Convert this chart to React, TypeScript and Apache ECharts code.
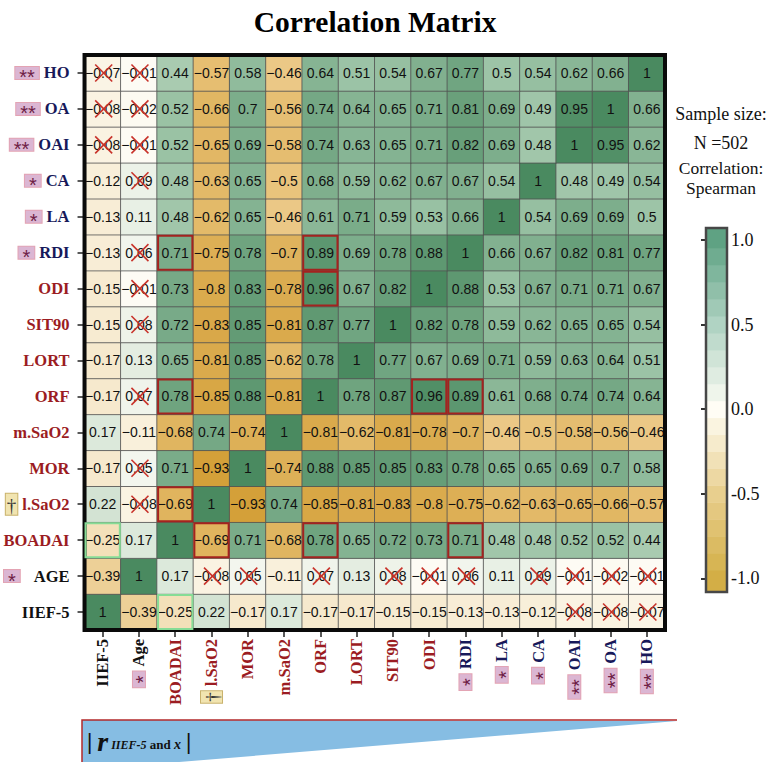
import React, { useEffect, useRef } from "react";
import * as echarts from "echarts";

const SERIF = "'Liberation Serif', 'Times New Roman', serif";
const SANS = "'Liberation Sans', Arial, sans-serif";

// Variables in x-axis order (left -> right); y-axis uses the same order bottom -> top
const xNames = ["IIEF-5", "Age", "BOADAI", "l.SaO2", "MOR", "m.SaO2", "ORF", "LORT", "SIT90", "ODI", "RDI", "LA", "CA", "OAI", "OA", "HO"];
const yNames = ["IIEF-5", "AGE", "BOADAI", "l.SaO2", "MOR", "m.SaO2", "ORF", "LORT", "SIT90", "ODI", "RDI", "LA", "CA", "OAI", "OA", "HO"];
// label colour group: k = black, r = dark red, n = navy
const nameGroup = ["k", "k", "r", "r", "r", "r", "r", "r", "r", "r", "n", "n", "n", "n", "n", "n"];
// significance markers beside the labels
const starMarks = ["", "*", "", "", "", "", "", "", "", "", "*", "*", "*", "**", "**", "**"];
const daggerMarks = ["", "", "", "†", "", "", "", "", "", "", "", "", "", "", "", ""];

// Spearman correlation matrix, rows in the same variable order
const rIIEF5 = [1, -0.39, -0.25, 0.22, -0.17, 0.17, -0.17, -0.17, -0.15, -0.15, -0.13, -0.13, -0.12, -0.08, -0.08, -0.07];
const rAge = [-0.39, 1, 0.17, -0.08, 0.05, -0.11, 0.07, 0.13, 0.08, -0.01, 0.06, 0.11, 0.09, -0.01, -0.02, -0.01];
const rBOADAI = [-0.25, 0.17, 1, -0.69, 0.71, -0.68, 0.78, 0.65, 0.72, 0.73, 0.71, 0.48, 0.48, 0.52, 0.52, 0.44];
const rLSaO2 = [0.22, -0.08, -0.69, 1, -0.93, 0.74, -0.85, -0.81, -0.83, -0.8, -0.75, -0.62, -0.63, -0.65, -0.66, -0.57];
const rMOR = [-0.17, 0.05, 0.71, -0.93, 1, -0.74, 0.88, 0.85, 0.85, 0.83, 0.78, 0.65, 0.65, 0.69, 0.7, 0.58];
const rMSaO2 = [0.17, -0.11, -0.68, 0.74, -0.74, 1, -0.81, -0.62, -0.81, -0.78, -0.7, -0.46, -0.5, -0.58, -0.56, -0.46];
const rORF = [-0.17, 0.07, 0.78, -0.85, 0.88, -0.81, 1, 0.78, 0.87, 0.96, 0.89, 0.61, 0.68, 0.74, 0.74, 0.64];
const rLORT = [-0.17, 0.13, 0.65, -0.81, 0.85, -0.62, 0.78, 1, 0.77, 0.67, 0.69, 0.71, 0.59, 0.63, 0.64, 0.51];
const rSIT90 = [-0.15, 0.08, 0.72, -0.83, 0.85, -0.81, 0.87, 0.77, 1, 0.82, 0.78, 0.59, 0.62, 0.65, 0.65, 0.54];
const rODI = [-0.15, -0.01, 0.73, -0.8, 0.83, -0.78, 0.96, 0.67, 0.82, 1, 0.88, 0.53, 0.67, 0.71, 0.71, 0.67];
const rRDI = [-0.13, 0.06, 0.71, -0.75, 0.78, -0.7, 0.89, 0.69, 0.78, 0.88, 1, 0.66, 0.67, 0.82, 0.81, 0.77];
const rLA = [-0.13, 0.11, 0.48, -0.62, 0.65, -0.46, 0.61, 0.71, 0.59, 0.53, 0.66, 1, 0.54, 0.69, 0.69, 0.5];
const rCA = [-0.12, 0.09, 0.48, -0.63, 0.65, -0.5, 0.68, 0.59, 0.62, 0.67, 0.67, 0.54, 1, 0.48, 0.49, 0.54];
const rOAI = [-0.08, -0.01, 0.52, -0.65, 0.69, -0.58, 0.74, 0.63, 0.65, 0.71, 0.82, 0.69, 0.48, 1, 0.95, 0.62];
const rOA = [-0.08, -0.02, 0.52, -0.66, 0.7, -0.56, 0.74, 0.64, 0.65, 0.71, 0.81, 0.69, 0.49, 0.95, 1, 0.66];
const rHO = [-0.07, -0.01, 0.44, -0.57, 0.58, -0.46, 0.64, 0.51, 0.54, 0.67, 0.77, 0.5, 0.54, 0.62, 0.66, 1];
const matrix = [rIIEF5, rAge, rBOADAI, rLSaO2, rMOR, rMSaO2, rORF, rLORT, rSIT90, rODI, rRDI, rLA, rCA, rOAI, rOA, rHO];

// non-significant pairs (crossed out), highlighted pairs
const nonSignificant: [string, string][] = [
  ["IIEF-5", "OAI"], ["IIEF-5", "OA"], ["IIEF-5", "HO"],
  ["Age", "l.SaO2"], ["Age", "MOR"], ["Age", "ORF"], ["Age", "SIT90"], ["Age", "ODI"],
  ["Age", "RDI"], ["Age", "CA"], ["Age", "OAI"], ["Age", "OA"], ["Age", "HO"],
];
const redPairs: [string, string][] = [["BOADAI", "l.SaO2"], ["BOADAI", "ORF"], ["BOADAI", "RDI"], ["ORF", "ODI"], ["ORF", "RDI"]];
const greenPairs: [string, string][] = [["IIEF-5", "BOADAI"]];

const colorbarTicks = [-1, -0.5, 0, 0.5, 1];
const colorbarMids = [-1, -0.9, -0.8, -0.7, -0.6, -0.5, -0.4, -0.3, -0.2, -0.1, 0, 0.1, 0.2, 0.3, 0.4, 0.5, 0.6, 0.7, 0.8, 0.9, 1];
const colorbarMin = -1.08;
const colorbarMax = 1.07;

const cellColors = ["#d09a2e", "#e9c47c", "#fdfcf6", "#9dc4a7", "#4a8a60"];
const barColors = ["#d3ae46", "#e8cf8e", "#fffdf5", "#b0d3c3", "#5fa283"];

const fmt = (v: number) => (v < 0 ? "\u2212" : "") + String(Math.abs(v));
const idx = (n: string) => xNames.indexOf(n);
const symPairs = (pairs: [string, string][]) => {
  const out: number[][] = [];
  pairs.forEach(([a, b]) => {
    out.push([idx(a), idx(b)]);
    out.push([idx(b), idx(a)]);
  });
  return out;
};

const LABEL_SIZE = 16.5;
const rich: any = {
  k: { color: "#111111", fontWeight: "bold", fontSize: LABEL_SIZE, fontFamily: SERIF },
  r: { color: "#9b1c22", fontWeight: "bold", fontSize: LABEL_SIZE, fontFamily: SERIF },
  n: { color: "#17195a", fontWeight: "bold", fontSize: LABEL_SIZE, fontFamily: SERIF },
  s: {
    color: "#6e1d45", backgroundColor: "#dbb6d3", borderColor: "#e3a3b3", borderWidth: 1,
    fontSize: 20, fontFamily: SANS, height: 3, lineHeight: 3, padding: [9, 4, 0, 4],
  },
  d: {
    color: "#333333", backgroundColor: "#f1e4b0", borderColor: "#c9b26c", borderWidth: 1,
    fontSize: 19, fontFamily: SERIF, padding: [2, 1, 0, 1],
  },
  g: { width: 5 },
  G: { width: 14 },
};

const makeLabel = (names: string[], isY: boolean) => (value: string) => {
  const i = names.indexOf(value);
  let pre = "";
  if (starMarks[i]) pre = `{s|${starMarks[i]}}` + (isY && value === "AGE" ? "{G| }" : "{g| }");
  if (daggerMarks[i]) pre = `{d|${daggerMarks[i]}}{g| }`;
  return `${pre}{${nameGroup[i]}|${value}}`;
};

export default function App() {
  const ref = useRef<HTMLDivElement>(null);
  useEffect(() => {
    if (!ref.current) return;
    const chart = echarts.init(ref.current, undefined, { renderer: "svg" });

    const heatData: number[][] = [];
    matrix.forEach((row, i) => row.forEach((v, j) => heatData.push([j, i, v])));
    const crossData = symPairs(nonSignificant);
    const redData = symPairs(redPairs);
    const greenData = symPairs(greenPairs);
    const barData = colorbarMids.map((m, k) => [
      k === 0 ? colorbarMin : m - 0.05,
      k === colorbarMids.length - 1 ? colorbarMax : m + 0.05,
      m,
    ]);

    const boxItem = (color: string, lw: number) => (params: any, api: any) => {
      const c = api.coord([api.value(0), api.value(1)]);
      const s = api.size([1, 1]);
      return {
        type: "rect",
        shape: { x: c[0] - s[0] / 2 + 1, y: c[1] - s[1] / 2 + 1, width: s[0] - 2, height: s[1] - 2 },
        style: { fill: "none", stroke: color, lineWidth: lw },
      };
    };

    const option: any = {
      animation: false,
      backgroundColor: "#ffffff",
      grid: [
        { left: 84, top: 55, width: 581, height: 575, show: true, borderColor: "#0a0a0a", borderWidth: 4, z: 5, backgroundColor: "transparent" },
        { left: 706, top: 228, width: 21, height: 364, show: false },
      ],
      xAxis: [
        {
          type: "category", data: xNames, gridIndex: 0,
          axisLine: { show: false },
          axisTick: { show: true, alignWithLabel: true, length: 7, lineStyle: { color: "#222", width: 1.5 } },
          axisLabel: { rotate: 90, margin: 9, interval: 0, formatter: makeLabel(xNames, false), rich },
          splitLine: { show: false },
        },
        { type: "value", gridIndex: 1, min: 0, max: 1, show: false },
      ],
      yAxis: [
        {
          type: "category", data: yNames, gridIndex: 0,
          axisLine: { show: false },
          axisTick: { show: true, alignWithLabel: true, length: 7, lineStyle: { color: "#222", width: 1.5 } },
          axisLabel: { margin: 15, interval: 0, formatter: makeLabel(yNames, true), rich },
          splitLine: { show: false },
        },
        {
          type: "value", gridIndex: 1, position: "right", min: colorbarMin, max: colorbarMax,
          axisLine: { show: false }, splitLine: { show: false },
          axisTick: { show: true, inside: true, length: 5, customValues: colorbarTicks, lineStyle: { color: "#333", width: 2 } },
          axisLabel: {
            show: true, customValues: colorbarTicks, margin: 4, color: "#111", fontSize: 18, fontFamily: SERIF,
            formatter: (v: number) => v.toFixed(1),
          },
        },
        {
          type: "value", gridIndex: 1, position: "left", min: colorbarMin, max: colorbarMax,
          axisLine: { show: false }, splitLine: { show: false },
          axisTick: { show: true, inside: true, length: 5, customValues: colorbarTicks, lineStyle: { color: "#333", width: 2 } },
          axisLabel: { show: false },
        },
      ],
      visualMap: [
        { type: "continuous", min: -1, max: 1, seriesIndex: 0, dimension: 2, show: false, inRange: { color: cellColors } },
        { type: "continuous", min: -1, max: 1, seriesIndex: 4, dimension: 2, show: false, inRange: { color: barColors } },
      ],
      series: [
        {
          type: "heatmap", xAxisIndex: 0, yAxisIndex: 0, data: heatData, z: 2,
          itemStyle: { borderColor: "#505050", borderWidth: 0.8 },
          label: {
            show: true, color: "#111", fontSize: 14, fontFamily: SANS,
            formatter: (p: any) => fmt(p.value[2]),
          },
          emphasis: { disabled: true },
        },
        {
          type: "custom", xAxisIndex: 0, yAxisIndex: 0, data: crossData, z: 10, silent: true,
          renderItem: (params: any, api: any) => {
            const c = api.coord([api.value(0), api.value(1)]);
            const h = 8.5;
            const cx = c[0] + 1;
            const cy = c[1];
            return {
              type: "group",
              children: [
                { type: "line", shape: { x1: cx - h, y1: cy - h, x2: cx + h, y2: cy + h }, style: { stroke: "#c8322a", lineWidth: 1.6 } },
                { type: "line", shape: { x1: cx - h, y1: cy + h, x2: cx + h, y2: cy - h }, style: { stroke: "#c8322a", lineWidth: 1.6 } },
              ],
            };
          },
        },
        { type: "custom", xAxisIndex: 0, yAxisIndex: 0, data: redData, z: 9, silent: true, renderItem: boxItem("#a3231f", 2) },
        { type: "custom", xAxisIndex: 0, yAxisIndex: 0, data: greenData, z: 9, silent: true, renderItem: boxItem("#86dc96", 2) },
        {
          type: "custom", xAxisIndex: 1, yAxisIndex: 1, data: barData, z: 2, silent: true, clip: true,
          renderItem: (params: any, api: any) => {
            const p1 = api.coord([0, api.value(1)]);
            const p2 = api.coord([1, api.value(0)]);
            return {
              type: "rect",
              shape: { x: p1[0], y: p1[1], width: p2[0] - p1[0], height: p2[1] - p1[1] + 0.5 },
              style: { fill: api.visual("color") },
            };
          },
        },
        {
          type: "custom", xAxisIndex: 1, yAxisIndex: 1, data: [[colorbarMin, colorbarMax]], z: 6, silent: true,
          renderItem: (params: any, api: any) => {
            const p1 = api.coord([0, api.value(1)]);
            const p2 = api.coord([1, api.value(0)]);
            return {
              type: "rect",
              shape: { x: p1[0], y: p1[1], width: p2[0] - p1[0], height: p2[1] - p1[1] },
              style: { fill: "none", stroke: "#474747", lineWidth: 2.5 },
            };
          },
        },
      ],
      graphic: [
        {
          type: "text", x: 375, y: 22,
          style: { text: "Correlation Matrix", fontSize: 29.5, fontWeight: "bold", fontFamily: SERIF, fill: "#000", align: "center", verticalAlign: "middle" },
        },
        { type: "text", x: 721, y: 114, style: { text: "Sample size:", fontSize: 18, fontFamily: SERIF, fill: "#111", align: "center", verticalAlign: "middle" } },
        { type: "text", x: 721, y: 143, style: { text: "N =502", fontSize: 18, fontFamily: SERIF, fill: "#111", align: "center", verticalAlign: "middle" } },
        { type: "text", x: 721, y: 168, style: { text: "Correlation:", fontSize: 17.5, fontFamily: SERIF, fill: "#111", align: "center", verticalAlign: "middle" } },
        { type: "text", x: 721, y: 187.5, style: { text: "Spearman", fontSize: 17.5, fontFamily: SERIF, fill: "#111", align: "center", verticalAlign: "middle" } },
        { type: "polygon", shape: { points: [[82, 720], [677, 721], [82, 770]] }, style: { fill: "#86bde3" } },
        { type: "polyline", shape: { points: [[82, 762], [82, 720], [677, 720]] }, style: { stroke: "#b3282a", lineWidth: 1.5, fill: "none" } },
        {
          type: "text", x: 87, y: 741,
          style: {
            text: "{b||}{sp| }{r|r}{t| IIEF-5}{a| and }{x|x}{sp| }{b||}",
            verticalAlign: "middle",
            rich: {
              b: { fontSize: 24, fontFamily: SERIF, fontWeight: "bold", fill: "#111", lineHeight: 30, verticalAlign: "middle" },
              sp: { width: 5, lineHeight: 30 },
              r: { fontSize: 28, fontFamily: SERIF, fontWeight: "bold", fontStyle: "italic", fill: "#111", lineHeight: 30, verticalAlign: "middle" },
              t: { fontSize: 12, fontFamily: SERIF, fontWeight: "bold", fontStyle: "italic", fill: "#111", lineHeight: 12, verticalAlign: "middle", padding: [7, 0, 0, 0] },
              a: { fontSize: 13, fontFamily: SERIF, fontWeight: "bold", fill: "#111", lineHeight: 13, verticalAlign: "middle", padding: [7, 0, 0, 0] },
              x: { fontSize: 14, fontFamily: SERIF, fontWeight: "bold", fontStyle: "italic", fill: "#111", lineHeight: 14, verticalAlign: "middle", padding: [7, 0, 0, 0] },
            },
          },
        },
      ],
    };

    chart.setOption(option);
    return () => chart.dispose();
  }, []);

  return <div ref={ref} style={{ position: "absolute", left: 0, top: 0, width: 772, height: 762 }} />;
}
